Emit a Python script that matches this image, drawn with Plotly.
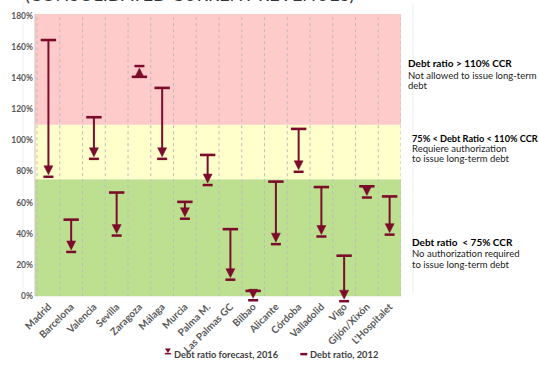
import plotly.graph_objects as go

# ---------------- data ----------------
cities = ["Madrid", "Barcelona", "Valencia", "Sevilla", "Zaragoza", "Málaga", "Murcia",
          "Palma M.", "Las Palmas GC", "Bilbao", "Alicante", "Córdoba", "Valladolid",
          "Vigo", "Gijón/Xixón", "L'Hospitalet"]
ratio_2012 = [164.3, 49.1, 114.8, 66.5, 140.7, 133.6, 60.5, 90.6, 43.0, 3.4, 73.5, 107.3, 70.0, 26.0, 70.5, 64.0]
forecast_2016 = [79.8, 31.6, 91.3, 42.1, 144.4, 91.3, 52.9, 74.5, 13.8, 0.6, 36.6, 83.0, 41.5, 0.0, 66.5, 42.7]

y_ticks = [0, 20, 40, 60, 80, 100, 120, 140, 160, 180]
y_tick_labels = ["0%", "20%", "40%", "60%", "80%", "100%", "120%", "140%", "160%", "180%"]

band_edges = [0, 75, 110, 181]
band_colors = ["#BDE090", "#FFFFCC", "#FFCACA"]

title_text = "(CONSOLIDATED CURRENT REVENUES)"
legend_labels = ["Debt ratio forecast, 2016", "Debt ratio, 2012"]
side_notes = [
    ["<b>Debt ratio > 110% CCR</b>", "Not allowed to issue long-term", "debt"],
    ["<b>75% &lt; Debt Ratio &lt; 110% CCR</b>", "Requiere authorization", "to issue long-term debt"],
    ["<b>Debt ratio  &lt; 75% CCR</b>", "No authorization required", "to issue long-term debt"],
]

# ---------------- layout geometry ----------------
W, H = 539, 368
Y_MIN, Y_MAX = -5, 181
PX_PER = 1.5746
ML, MR, MT = 32, 138, 11
PH = (Y_MAX - Y_MIN) * PX_PER
MB = H - MT - PH
PW = W - ML - MR
BOTTOM = H - MB
def px_x(p):
    return (p - ML) / PW
def px_y(p):
    return (BOTTOM - p) / PH

RED = "#7B0C2C"
FONT = "Lato"

fig = go.Figure()

# 2012 caps
fig.add_trace(go.Scatter(
    x=cities, y=ratio_2012, mode="markers",
    marker=dict(symbol="line-ew", size=11, line=dict(width=2.6, color=RED)),
    showlegend=False, hoverinfo="skip", cliponaxis=False))

shapes = []
# background bands
for lo, hi, col in zip(band_edges[:-1], band_edges[1:], band_colors):
    shapes.append(dict(type="rect", xref="paper", yref="y", x0=0, x1=1, y0=lo, y1=hi,
                       fillcolor=col, line=dict(width=0), layer="below"))
# dashed category boundaries
for k in range(len(cities) + 1):
    shapes.append(dict(type="line", xref="x", yref="y", x0=k - 0.5, x1=k - 0.5,
                       y0=band_edges[0], y1=band_edges[-1],
                       line=dict(color="#BDBDBD", width=1, dash="3px,3px"), layer="below"))
# left border
shapes.append(dict(type="line", xref="paper", yref="y", x0=0, x1=0, y0=band_edges[0], y1=band_edges[-1],
                   line=dict(color="#D8C2B8", width=1), layer="below"))

# arrows
for c, a, b in zip(cities, ratio_2012, forecast_2016):
    shapes.append(dict(type="line", xref="x", yref="y", x0=c, x1=c, y0=a, y1=b,
                       line=dict(color=RED, width=2)))
    s = 1 if b <= a else -1  # downward arrow -> triangle above the value
    shapes.append(dict(type="path", xref="x", yref="y", xsizemode="pixel", ysizemode="pixel",
                       xanchor=c, yanchor=b,
                       path=f"M-4.5,{6*s} L4.5,{6*s} L0,{-3*s} Z",
                       fillcolor=RED, line=dict(color=RED, width=0.5)))
    shapes.append(dict(type="line", xref="x", yref="y", xsizemode="pixel", ysizemode="pixel",
                       xanchor=c, yanchor=b, x0=-5, x1=5, y0=-5*s, y1=-5*s,
                       line=dict(color=RED, width=2.5)))

# faint slide guide lines
for gx in (20, 413):
    shapes.append(dict(type="line", xref="paper", yref="paper", x0=px_x(gx), x1=px_x(gx),
                       y0=px_y(293), y1=px_y(0), line=dict(color="#EEEEEE", width=1), layer="below"))

# legend icons
shapes.append(dict(type="path", xref="paper", yref="paper", xsizemode="pixel", ysizemode="pixel",
                   xanchor=px_x(166), yanchor=px_y(351.5),
                   path="M-2.5,2.5 L2.5,2.5 L0,-1.5 Z", fillcolor=RED, line=dict(color=RED, width=0.5)))
shapes.append(dict(type="line", xref="paper", yref="paper", xsizemode="pixel", ysizemode="pixel",
                   xanchor=px_x(166), yanchor=px_y(351.5), x0=-3, x1=3, y0=-2.5, y1=-2.5,
                   line=dict(color=RED, width=1.5)))
shapes.append(dict(type="line", xref="paper", yref="paper", x0=px_x(299.5), x1=px_x(306.5),
                   y0=px_y(354.5), y1=px_y(354.5), line=dict(color=RED, width=2.5)))

annotations = []
# title (cut off at top)
annotations.append(dict(text=title_text, xref="paper", yref="paper", x=px_x(356), y=px_y(3.5),
                        xanchor="right", yanchor="bottom", showarrow=False,
                        font=dict(family=FONT, size=18, color="#333333")))
# legend texts
annotations.append(dict(text=legend_labels[0], xref="paper", yref="paper", x=px_x(170), y=px_y(355),
                        xanchor="left", yanchor="middle", showarrow=False,
                        font=dict(family=FONT, size=9.3, color="#404040", weight="bold")))
annotations.append(dict(text=legend_labels[1], xref="paper", yref="paper", x=px_x(307), y=px_y(355),
                        xanchor="left", yanchor="middle", showarrow=False,
                        font=dict(family=FONT, size=9.3, color="#404040", weight="bold")))
# side notes
note_x = [406, 410, 410]
note_y = [[60.7, 73, 83.3], [136.7, 146.7, 156.7], [241.7, 253.3, 264]]
title_sizes = [10, 9.2, 10]
for lines, nx, ys, ts in zip(side_notes, note_x, note_y, title_sizes):
    for k, (t, yy) in enumerate(zip(lines, ys)):
        annotations.append(dict(text=t, xref="paper", yref="paper", x=px_x(nx), y=px_y(yy),
                                xanchor="left", yanchor="middle", showarrow=False,
                                font=dict(family=FONT, size=ts if k == 0 else 9.5,
                                          color="#000000" if k == 0 else "#222222")))

fig.update_layout(
    width=W, height=H,
    margin=dict(l=ML, r=MR, t=MT, b=MB, pad=0),
    paper_bgcolor="white", plot_bgcolor="white",
    showlegend=False,
    shapes=shapes, annotations=annotations,
    xaxis=dict(type="category", range=[-0.59, 15.5],
               showgrid=False, tickangle=-45, ticks="", showline=False, zeroline=False,
               ticklabelstandoff=-6,
               tickfont=dict(family=FONT, size=10, color="#595959", weight="bold")),
    yaxis=dict(range=[Y_MIN, Y_MAX], tickvals=y_ticks, ticktext=y_tick_labels,
               showgrid=False, zeroline=False, showline=False,
               ticks="", ticklabelstandoff=1,
               tickfont=dict(family=FONT, size=8.5, color="#595959", weight="bold")),
)

fig.write_html("out.html")
